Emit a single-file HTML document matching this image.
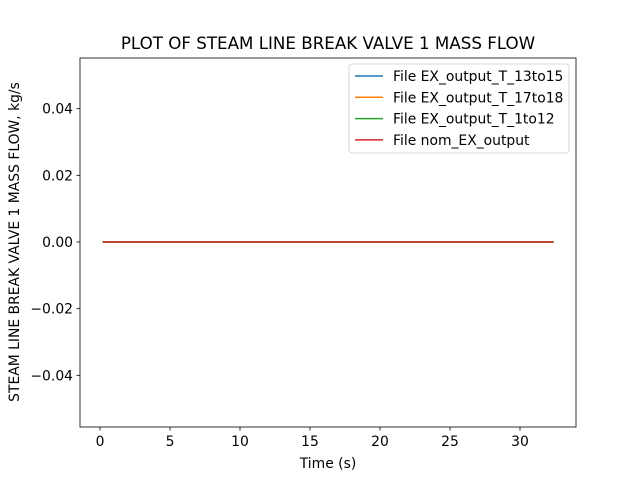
<!DOCTYPE html>
<html><head><meta charset="utf-8"><style>
body{margin:0;background:#fff;}
svg{font-family:"DejaVu Sans","Liberation Sans",sans-serif;}
</style></head><body>
<svg width="640" height="480" viewBox="0 0 640 480">
<rect width="640" height="480" fill="#fff"/>
<text x="328" y="49" font-size="16.7" text-anchor="middle">PLOT OF STEAM LINE BREAK VALVE 1 MASS FLOW</text>
<g id="plot"></g>
<rect x="80" y="58" width="496" height="369" fill="none" stroke="#000" stroke-width="0.8"/>
<text x="328" y="468" font-size="13.9" text-anchor="middle">Time (s)</text>
<text transform="translate(19,242) rotate(-90)" font-size="13.9" text-anchor="middle">STEAM LINE BREAK VALVE 1 MASS FLOW, kg/s</text>
<g>
<rect x="349" y="64" width="220" height="89" rx="3" fill="#fff" fill-opacity="0.8" stroke="#ccc" stroke-width="0.8"/>
<g id="legend-items"></g>
</g>
</svg>
<script>
const seriesNames=["File EX_output_T_13to15","File EX_output_T_17to18","File EX_output_T_1to12","File nom_EX_output"];
const seriesColors=["#1f77b4","#ff7f0e","#2ca02c","#d62728"];
const timeVals=[0.18,32.4];
const flowS1=[0,0];
const flowS2=[0,0];
const flowS3=[0,0];
const flowS4=[0,0];
const xTicks=[0,5,10,15,20,25,30];
const yTicks=[-0.04,-0.02,0,0.02,0.04];
const yTickLabels=["\u22120.04","\u22120.02","0.00","0.02","0.04"];
const NS="http://www.w3.org/2000/svg";
const xs=v=>100+v*14;
const ys=v=>242-v*3333.3;
const plot=document.getElementById('plot');
function mk(t,a,p){const e=document.createElementNS(NS,t);for(const k in a)e.setAttribute(k,a[k]);(p||plot).appendChild(e);return e;}
xTicks.forEach(v=>{
 const l=mk('line',{x1:xs(v),x2:xs(v),y1:427,y2:430.5,stroke:'#000','stroke-width':0.8});
 
 
 const t=mk('text',{x:xs(v),y:446,'font-size':13.9,'text-anchor':'middle'});t.textContent=v;
 
 
});
yTicks.forEach((v,i)=>{
 const l=mk('line',{x1:76.5,x2:80,y1:ys(v),y2:ys(v),stroke:'#000','stroke-width':0.8});
 
 
 const t=mk('text',{x:73,y:ys(v)+5,'font-size':13.9,'text-anchor':'end'});t.textContent=yTickLabels[i];
 
 
});
[flowS1,flowS2,flowS3,flowS4].forEach((s,i)=>{
 const pts=s.map((v,j)=>xs(timeVals[j])+','+ys(v)).join(' ');
 const p=mk('polyline',{points:pts,fill:'none',stroke:seriesColors[i],'stroke-width':1.5});
 
 
});
const lg=document.getElementById('legend-items');
seriesNames.forEach((n,i)=>{
 const y=76+i*21.3;
 const l=mk('line',{x1:355,x2:383,y1:y,y2:y,stroke:seriesColors[i],'stroke-width':1.5},lg);
 
 
 const t=mk('text',{x:393,y:y+5,'font-size':13.9},lg);t.textContent=n;
 
 
});
</script>
</body></html>
